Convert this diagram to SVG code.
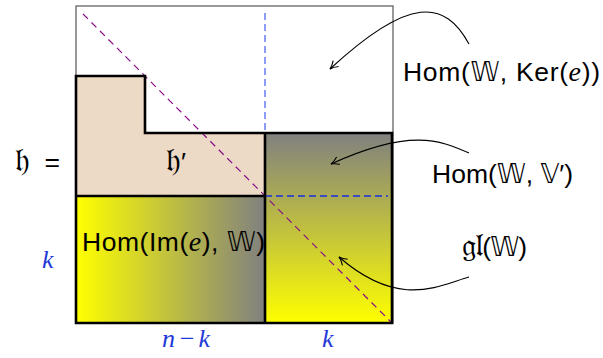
<svg xmlns="http://www.w3.org/2000/svg" width="603" height="358" viewBox="0 0 603 358">
<style>
.lbl{font-family:"Liberation Sans","DejaVu Sans",sans-serif;font-size:26.5px;fill:#000}
.it{font-family:"Liberation Serif",serif;font-style:italic;font-size:28px}
.bb{font-family:"DejaVu Sans",sans-serif;font-size:26px}
.fr{font-family:"DejaVu Serif","Noto Sans",serif;font-size:32px}
.dim{font-family:"Liberation Serif",serif;font-style:italic;font-size:26px;fill:#1f3ad8}
.thick{fill:none;stroke:#000;stroke-width:2.6}
.arr{fill:none;stroke:#000;stroke-width:1.1;marker-end:url(#ah)}
</style>
<defs>
<linearGradient id="gh" x1="0" y1="0" x2="1" y2="0"><stop offset="0" stop-color="#ffff00"/><stop offset="1" stop-color="#808080"/></linearGradient>
<linearGradient id="gv" x1="0" y1="0" x2="0" y2="1"><stop offset="0" stop-color="#808080"/><stop offset="1" stop-color="#ffff00"/></linearGradient>
<marker id="ah" viewBox="0 0 10 10" refX="9" refY="5" markerWidth="10" markerHeight="10" markerUnits="userSpaceOnUse" orient="auto"><path d="M1,1 Q5,4 9,5 Q5,6 1,9" fill="none" stroke="#000" stroke-width="1.1"/></marker>
</defs>
<g id="outer"><rect x="76" y="6" width="317" height="317" fill="#fff" stroke="#555" stroke-width="1.2"/></g>
<g id="hprime"><path d="M76,76 H145 V133 H265 V196 H76 Z" fill="#ecd9c6"/></g>
<g id="homImW"><rect x="76" y="196" width="189" height="127" fill="url(#gh)"/></g>
<g id="gl"><rect x="265" y="133" width="127" height="190" fill="url(#gv)"/></g>
<g id="guides">
<line x1="265" y1="13" x2="265" y2="323" stroke="#2a44f0" stroke-opacity="0.75" stroke-width="1.4" stroke-dasharray="7,4"/>
<line x1="265" y1="196" x2="388" y2="196" stroke="#1a2ee0" stroke-width="1.3" stroke-dasharray="7,4"/>
<line x1="83" y1="14" x2="392" y2="323" stroke="#8a0a8a" stroke-width="1.2" stroke-dasharray="7,5"/>
</g>
<g id="borders">
<path class="thick" d="M76,76 H145 V133 H392 V323 H76 Z"/>
<path class="thick" d="M76,196 H265 M265,133 V323"/>
</g>
<g id="labels">
<text class="lbl" x="15" y="171" textLength="45" lengthAdjust="spacing"><tspan class="fr">𝔥</tspan> =</text>
<text class="lbl" x="166" y="171"><tspan class="fr">𝔥</tspan>′</text>
<text class="lbl" x="82" y="251" textLength="183" lengthAdjust="spacing">Hom(Im(<tspan class="it">e</tspan>), <tspan class="bb">𝕎</tspan>)</text>
<text class="lbl" x="403" y="81" textLength="197" lengthAdjust="spacing">Hom(<tspan class="bb">𝕎</tspan>, Ker(<tspan class="it">e</tspan>))</text>
<text class="lbl" x="432" y="183" textLength="141" lengthAdjust="spacing">Hom(<tspan class="bb">𝕎</tspan>, <tspan class="bb">𝕍</tspan>′)</text>
<text class="lbl" x="462" y="256" textLength="65" lengthAdjust="spacing"><tspan class="fr">𝔤𝔩</tspan>(<tspan class="bb">𝕎</tspan>)</text>
<text class="dim" x="42" y="268">k</text>
<text class="dim" x="162" y="347" textLength="48" lengthAdjust="spacing">n−k</text>
<text class="dim" x="322" y="347">k</text>
</g>
<g id="connectors">
<path class="arr" d="M469,44 C445,0 410,-5 330,69"/>
<path class="arr" d="M469,153 C440,140 410,128 331,164"/>
<path class="arr" d="M469,277 C440,285 400,310 339,257"/>
</g>
</svg>
